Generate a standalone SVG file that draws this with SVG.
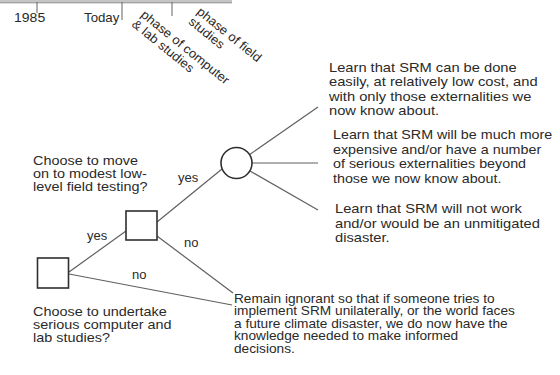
<svg xmlns="http://www.w3.org/2000/svg" width="560" height="375" viewBox="0 0 560 375">
<style>
.t{font-family:"Liberation Sans",Arial,sans-serif;font-size:13px;fill:#2a2a2a}
.s{font-family:"Liberation Sans",Arial,sans-serif;font-size:12px;fill:#2a2a2a}
.r{font-family:"Liberation Sans",Arial,sans-serif;font-size:12.5px;fill:#2a2a2a}
.c{stroke:#606060;stroke-width:1.2;fill:none}
.n{stroke:#2f2f2f;stroke-width:1.6;fill:#fff}
.tk{stroke:#707070;stroke-width:1.1}
</style>
<rect width="560" height="375" fill="#fff"/>
<g id="timeline">
<rect x="0" y="0" width="232" height="2.5" fill="#c4c4c4"/>
<line x1="0" y1="2.8" x2="232" y2="2.8" stroke="#8a8a8a" stroke-width="1"/>
<line class="tk" x1="37" y1="2" x2="37" y2="13"/>
<line class="tk" x1="122" y1="2" x2="122" y2="20"/>
<line class="tk" x1="172" y1="2" x2="172" y2="16"/>
<g transform="translate(14,0) scale(1.08,1)"><text class="t" x="0" y="22">1985</text></g>
<g transform="translate(84,0) scale(1.02,1)"><text class="t" x="0" y="22">Today</text></g>
<g transform="translate(140,16) rotate(39) scale(1.06,1)">
<text class="r" x="0" y="0">phase of computer</text>
<text class="r" x="-1" y="13">&amp; lab studies</text>
</g>
<g transform="translate(196,13) rotate(39) scale(1.06,1)">
<text class="r" x="0" y="0">phase of field</text>
<text class="r" x="0" y="13">studies</text>
</g>
</g>
<g id="connectors">
<line class="c" x1="69" y1="272" x2="126" y2="231"/>
<line class="c" x1="69" y1="274" x2="232" y2="305"/>
<line class="c" x1="157" y1="222" x2="222" y2="169"/>
<line class="c" x1="157" y1="236" x2="233" y2="293"/>
<line class="c" x1="249" y1="155" x2="318" y2="107"/>
<line class="c" x1="252" y1="163" x2="318" y2="163"/>
<line class="c" x1="250" y1="171" x2="318" y2="210"/>
</g>
<g id="labels">
<text class="t" x="87" y="240">yes</text>
<text class="t" x="178" y="182">yes</text>
<text class="t" x="184" y="247">no</text>
<text class="t" x="132" y="279">no</text>
</g>
<g id="decision1">
<rect class="n" x="37.5" y="258" width="31" height="30"/>
<g transform="translate(33,0) scale(1.11,1)">
<text class="t" x="0" y="316">Choose to undertake</text>
<text class="t" x="0" y="329">serious computer and</text>
<text class="t" x="0" y="342">lab studies?</text>
</g>
</g>
<g id="decision2">
<rect class="n" x="126" y="211" width="31" height="29"/>
<g transform="translate(33,0) scale(1.11,1)">
<text class="t" x="0" y="165">Choose to move</text>
<text class="t" x="0" y="178">on to modest low-</text>
<text class="t" x="0" y="191">level field testing?</text>
</g>
</g>
<g id="chance">
<circle class="n" cx="236.5" cy="163" r="15.5"/>
</g>
<g id="outcome1">
<g transform="translate(329,0) scale(1.13,1)">
<text class="t" x="0" y="72">Learn that SRM can be done</text>
<text class="t" x="0" y="86.5">easily, at relatively low cost, and</text>
<text class="t" x="0" y="101">with only those externalities we</text>
<text class="t" x="0" y="115.5">now know about.</text>
</g>
</g>
<g id="outcome2">
<g transform="translate(333,0) scale(1.1,1)">
<text class="t" x="0" y="139.5">Learn that SRM will be much more</text>
<text class="t" x="0" y="154">expensive and/or have a number</text>
<text class="t" x="0" y="168.5">of serious externalities beyond</text>
<text class="t" x="0" y="183">those we now know about.</text>
</g>
</g>
<g id="outcome3">
<g transform="translate(335,0) scale(1.13,1)">
<text class="t" x="0" y="213.5">Learn that SRM will not work</text>
<text class="t" x="0" y="228">and/or would be an unmitigated</text>
<text class="t" x="0" y="242.5">disaster.</text>
</g>
</g>
<g id="outcome4">
<g transform="translate(234,0) scale(1.14,1)">
<text class="s" x="0" y="303">Remain ignorant so that if someone tries to</text>
<text class="s" x="0" y="315.5">implement SRM unilaterally, or the world faces</text>
<text class="s" x="0" y="328">a future climate disaster, we do now have the</text>
<text class="s" x="0" y="340.5">knowledge needed to make informed</text>
<text class="s" x="0" y="353">decisions.</text>
</g>
</g>
</svg>
